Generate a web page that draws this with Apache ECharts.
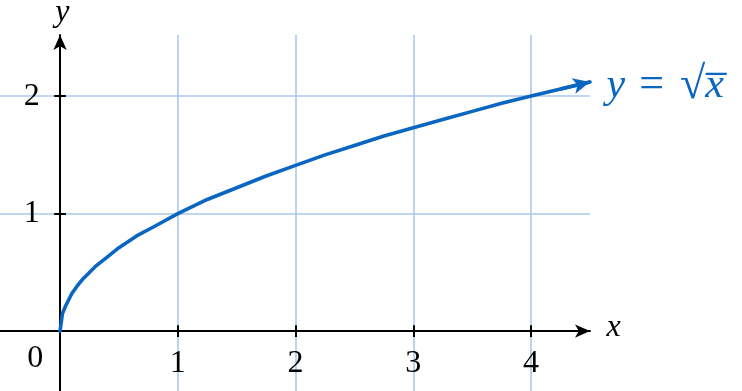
<!DOCTYPE html>
<html><head><meta charset="utf-8">
<script src="https://cdn.jsdelivr.net/npm/echarts@6/dist/echarts.min.js"></script>
<style>html,body{margin:0;padding:0;background:#fff}#c{width:742px;height:391px}</style>
</head><body><div id="c"></div>
<script>
// curve y = sqrt(x)
const curveX = [0, 0.02, 0.05, 0.1, 0.15, 0.2, 0.3, 0.4, 0.5, 0.65, 0.8, 1, 1.25, 1.5, 1.75, 2, 2.25, 2.5, 2.75, 3, 3.25, 3.5, 3.75, 4, 4.25, 4.5];
const curveY = [0, 0.15, 0.22, 0.32, 0.39, 0.45, 0.55, 0.63, 0.71, 0.81, 0.89, 1, 1.12, 1.22, 1.32, 1.41, 1.5, 1.58, 1.66, 1.73, 1.8, 1.87, 1.94, 2, 2.06, 2.12];
const xTicks = [1, 2, 3, 4];
const yTicks = [1, 2];
const xTickLabels = ['1', '2', '3', '4'];
const yTickLabels = ['1', '2'];
const originLabel = '0';
const xName = 'x';
const yName = 'y';

const BLUE = '#0a66c0';
const GRIDC = '#a9c8eb';
const FONT = '"Liberation Serif", "DejaVu Serif", serif';

const curveData = curveX.map((x, i) => [x, curveY[i]]);
const n = curveData.length;
const T = 0.05; // half tick length in axis units

const tickSegs = xTicks.map(v => [{coord: [v, -T]}, {coord: [v, T]}])
  .concat(yTicks.map(v => [{coord: [-T, v]}, {coord: [T, v]}]));

const textSeries = (data, style) => ({
  type: 'scatter', z: 6, clip: false, silent: true, symbolSize: 0,
  itemStyle: {opacity: 1},
  label: Object.assign({show: true, position: 'inside', fontFamily: FONT, fontSize: 32, color: '#000',
    formatter: p => p.data[2]}, style),
  data: data
});

const chart = echarts.init(document.getElementById('c'), null, {renderer: 'canvas'});
chart.setOption({
  animation: false,
  grid: {left: 0, right: 152, top: 35, bottom: 0, containLabel: false, outerBoundsMode: 'none'},
  xAxis: {
    type: 'value', min: -0.51, max: 4.5,
    splitLine: {show: false},
    axisLine: {show: true, onZero: true, symbol: ['none', 'arrow'], symbolSize: [10, 15],
      lineStyle: {color: '#000', width: 2}},
    axisTick: {show: false},
    axisLabel: {show: false}
  },
  yAxis: {
    type: 'value', min: -0.51, max: 2.52,
    splitLine: {show: false},
    axisLine: {show: true, onZero: true, symbol: ['none', 'arrow'], symbolSize: [10, 15],
      lineStyle: {color: '#000', width: 2}},
    axisTick: {show: false},
    axisLabel: {show: false}
  },
  series: [
    {
      type: 'line', data: [], silent: true, z: 1,
      markLine: {
        silent: true, symbol: ['none', 'none'], label: {show: false},
        lineStyle: {color: GRIDC, width: 1.6, type: 'solid', opacity: 1},
        data: xTicks.map(v => ({xAxis: v})).concat(yTicks.map(v => ({yAxis: v})))
      }
    },
    {
      type: 'line', data: [], silent: true, z: 4,
      markLine: {
        silent: true, symbol: ['none', 'none'], label: {show: false},
        lineStyle: {color: '#000', width: 2, type: 'solid', opacity: 1},
        data: tickSegs
      }
    },
    {
      type: 'line', z: 5, clip: false, showSymbol: false, silent: true,
      smooth: false,
      lineStyle: {color: BLUE, width: 3.6, join: 'round', cap: 'round'},
      data: curveData,
      markLine: {
        silent: true, symbol: ['none', 'arrow'], symbolSize: [12, 17],
        label: {show: false}, lineStyle: {color: BLUE, width: 3.6, type: 'solid', opacity: 1},
        data: [[{coord: curveData[n - 2]}, {coord: curveData[n - 1]}]]
      }
    },
    textSeries(xTicks.map((v, i) => [v, -0.28, xTickLabels[i]])
        .concat(yTicks.map((v, i) => [-0.24, v, yTickLabels[i]]))
        .concat([[-0.21, -0.23, originLabel]]), {}),
    textSeries([[4.70, 0.03, xName], [0.02, 2.71, yName]], {fontStyle: 'italic'}),
    {
      type: 'scatter', z: 6, clip: false, silent: true, symbolSize: 0,
      itemStyle: {opacity: 1},
      label: {show: true, position: 'right', distance: 0, color: BLUE,
        formatter: '{i|y}{n|=}{r|√}{o|x̅}',
        rich: {
          i: {fontFamily: FONT, fontSize: 42, fontStyle: 'italic', color: BLUE},
          n: {fontFamily: FONT, fontSize: 44, color: BLUE, padding: [0, 16, 0, 14]},
          r: {fontFamily: FONT, fontSize: 46, color: BLUE},
          o: {fontFamily: FONT, fontSize: 42, fontStyle: 'italic', color: BLUE}
        }},
      data: [[4.64, 2.09]]
    }
  ]
});
</script></body></html>
